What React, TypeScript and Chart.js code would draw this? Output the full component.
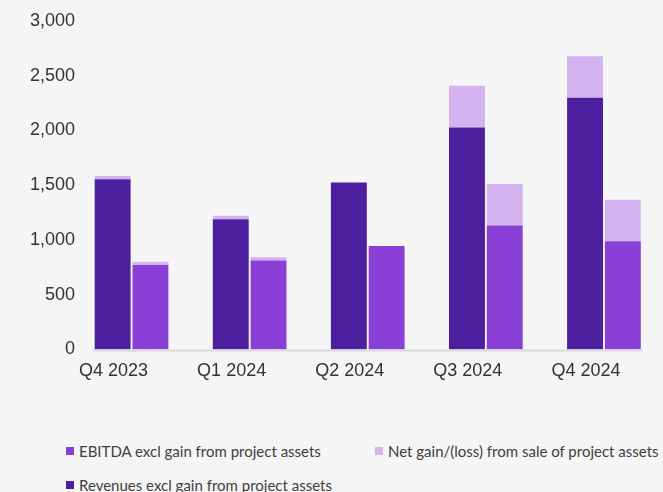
import React, { useEffect, useRef } from "react";
import { Chart, registerables } from "chart.js";

Chart.register(...registerables);

const categories = ["Q4 2023", "Q1 2024", "Q2 2024", "Q3 2024", "Q4 2024"];
const revenues = [1555, 1190, 1525, 2028, 2300];
const ebitda = [771, 811, 945, 1131, 988];
const netGain = [30, 30, 0, 380, 378];
const yTicks = [0, 500, 1000, 1500, 2000, 2500, 3000];

const DARK = "#4c1f9e";
const MID = "#8a40d7";
const LIGHT = "#d3b3f0";
const BG = "#f5f5f5";
const TEXT = "#333333";

const axisLinePlugin = {
  id: "axisLine",
  afterDatasetsDraw(chart: any) {
    const first = chart.getDatasetMeta(0).data[0];
    const lastMeta = chart.getDatasetMeta(2).data;
    const last = lastMeta[lastMeta.length - 1];
    if (!first || !last) return;
    const x0 = first.x - first.width / 2 - 2;
    const x1 = last.x + last.width / 2 + 2;
    const y = chart.chartArea.bottom;
    const ctx = chart.ctx;
    ctx.save();
    ctx.strokeStyle = "#d9d9d9";
    ctx.lineWidth = 2;
    ctx.beginPath();
    ctx.moveTo(x0, y + 1);
    ctx.lineTo(x1, y + 1);
    ctx.stroke();
    ctx.restore();
  },
};

export default function App() {
  const ref = useRef<HTMLCanvasElement | null>(null);

  useEffect(() => {
    if (!ref.current) return;
    const chart = new Chart(ref.current, {
      type: "bar",
      data: {
        labels: categories,
        datasets: [
          { label: "Revenues excl gain from project assets", data: revenues, backgroundColor: DARK, stack: "rev" },
          { label: "Net gain/(loss) from sale of project assets", data: netGain, backgroundColor: LIGHT, stack: "rev" },
          { label: "EBITDA excl gain from project assets", data: ebitda, backgroundColor: MID, stack: "ebitda" },
          { label: "Net gain/(loss) from sale of project assets ", data: netGain, backgroundColor: LIGHT, stack: "ebitda" },
        ],
      },
      options: {
        animation: false,
        responsive: false,
        maintainAspectRatio: false,
        datasets: { bar: { categoryPercentage: 0.64, barPercentage: 0.95 } },
        layout: { padding: { top: 21, right: 0, bottom: 12, left: 0 } },
        plugins: { legend: { display: false }, tooltip: { enabled: false } },
        scales: {
          x: {
            stacked: true,
            offset: true,
            grid: { display: false, drawTicks: false },
            border: { display: false },
            ticks: {
              color: TEXT,
              padding: 11,
              labelOffset: -18,
              maxRotation: 0,
              font: { family: "'Liberation Sans', Arial, sans-serif", size: 18 },
            },
          },
          y: {
            stacked: true,
            min: 0,
            max: 3000,
            afterBuildTicks: (axis: any) => {
              axis.ticks = yTicks.map((v) => ({ value: v }));
            },
            afterFit: (axis: any) => {
              axis.width = 72.5;
              axis._computeLabelArea = () => undefined;
            },
            grid: { display: false, drawTicks: false },
            border: { display: false },
            ticks: {
              color: TEXT,
              padding: -2.5,
              font: { family: "'Liberation Sans', Arial, sans-serif", size: 18 },
              callback: (v: any) => Number(v).toLocaleString("en-US"),
            },
          },
        },
      },
      plugins: [axisLinePlugin],
    });
    return () => chart.destroy();
  }, []);

  const legendFont = "Lato, 'Open Sans', sans-serif";
  const item = (color: string, text: string, left: number, top: number) => (
    <div
      style={{
        position: "absolute",
        left,
        top,
        display: "flex",
        alignItems: "center",
        fontFamily: legendFont,
        fontSize: 15,
        color: "#404040",
        whiteSpace: "nowrap",
        lineHeight: "18px",
      }}
    >
      <span style={{ display: "inline-block", width: 8, height: 8, background: color, marginRight: 5 }} />
      <span>{text}</span>
    </div>
  );

  return (
    <div style={{ position: "fixed", left: 0, top: 0, width: 663, height: 492, background: BG, overflow: "hidden" }}>
      <canvas ref={ref} width={663} height={405} style={{ display: "block", width: 663, height: 405 }} />
      {item(MID, "EBITDA excl gain from project assets", 66, 442)}
      {item(LIGHT, "Net gain/(loss) from sale of project assets", 375, 442)}
      {item(DARK, "Revenues excl gain from project assets", 66, 476)}
    </div>
  );
}
